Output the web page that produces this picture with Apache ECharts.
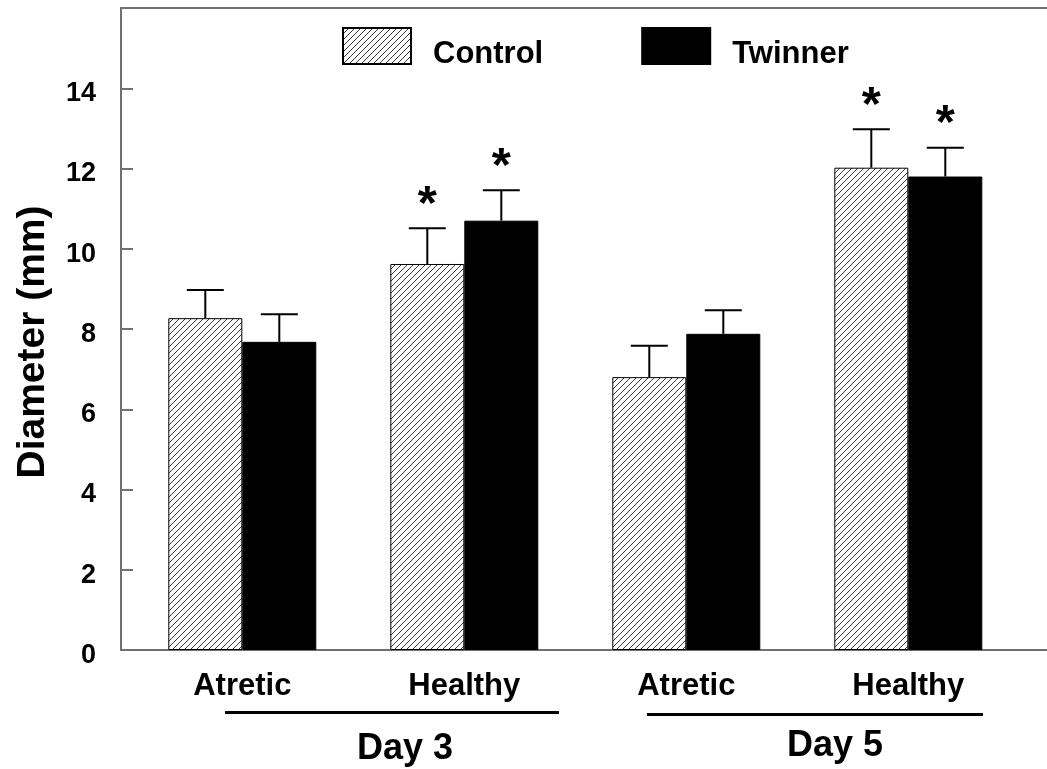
<!DOCTYPE html>
<html>
<head>
<meta charset="utf-8">
<script src="https://cdn.jsdelivr.net/npm/echarts@6/dist/echarts.min.js"></script>
<style>html,body{margin:0;padding:0;background:#fff;}#main{width:1047px;height:769px;}</style>
</head>
<body>
<div id="main"></div>
<script>
// ---- data ----
const categories = ['Atretic', 'Healthy', 'Atretic', 'Healthy'];
const groupLabels = ['Day 3', 'Day 5'];
const seriesNames = ['Control', 'Twinner'];
const controlValues = [8.27, 9.62, 6.80, 12.02];
const controlErrors = [0.70, 0.89, 0.78, 0.96];
const controlSig = [0, 1, 0, 1];
const twinnerValues = [7.68, 10.70, 7.88, 11.80];
const twinnerErrors = [0.69, 0.76, 0.59, 0.72];
const twinnerSig = [0, 1, 0, 1];
const yTicks = [0, 2, 4, 6, 8, 10, 12, 14];
const yMax = 16;

const FONT = '"Liberation Sans", Arial, Helvetica, sans-serif';
const BAR_W = 74;

function hatch() {
  const c = document.createElement('canvas');
  c.width = 6; c.height = 6;
  const g = c.getContext('2d');
  g.fillStyle = '#fff'; g.fillRect(0, 0, 6, 6);
  g.strokeStyle = '#3a3a3a'; g.lineWidth = 1;
  g.beginPath();
  g.moveTo(0, 6); g.lineTo(6, 0);
  g.moveTo(-1, 1); g.lineTo(1, -1);
  g.moveTo(5, 7); g.lineTo(7, 5);
  g.stroke();
  return c;
}
const hatchFill = { image: hatch(), repeat: 'repeat' };

function errData(vals, errs, sig) {
  return vals.map((v, i) => [i, v, errs[i], sig[i]]);
}
function errRender(offset) {
  return function (params, api) {
    const i = api.value(0), v = api.value(1), e = api.value(2), s = api.value(3);
    const top = api.coord([i, v + e]);
    const base = api.coord([i, v]);
    const cx = top[0] + offset;
    const children = [
      { type: 'line', shape: { x1: cx, y1: base[1], x2: cx, y2: top[1] }, style: { stroke: '#000', lineWidth: 2 } },
      { type: 'line', shape: { x1: cx - 18.5, y1: top[1], x2: cx + 18.5, y2: top[1] }, style: { stroke: '#000', lineWidth: 2 } }
    ];
    if (s) {
      children.push({ type: 'text', x: cx, y: top[1] - 23, style: { text: '*', fill: '#000', font: 'bold 49px ' + FONT, align: 'center', verticalAlign: 'middle' } });
    }
    return { type: 'group', children: children };
  };
}

const chart = echarts.init(document.getElementById('main'), null, { renderer: 'canvas' });
const axisColor = '#707070';
chart.setOption({
  backgroundColor: '#fff',
  animation: false,
  legend: {
    data: seriesNames,
    left: 342, top: 27,
    padding: 0,
    icon: 'rect',
    itemWidth: 68, itemHeight: 36, itemGap: 98,
    formatter: '{pad| }\n{t|{name}}',
    textStyle: {
      padding: [0, 0, 0, 17],
      rich: {
        pad: { fontSize: 1, lineHeight: 16, height: 16 },
        t: { fontFamily: FONT, fontSize: 31, fontWeight: 'bold', color: '#000', lineHeight: 20, height: 20 }
      }
    }
  },
  grid: [
    { left: 121, right: -20, top: 8, bottom: 119 },
    { left: 131.3, right: 27.7, top: 8, bottom: 119 }
  ],
  xAxis: [
    { gridIndex: 0, type: 'value', min: 0, max: 1, position: 'bottom',
      axisLine: { show: true, lineStyle: { color: axisColor, width: 2 } }, axisTick: { show: false }, axisLabel: { show: false }, splitLine: { show: false } },
    { gridIndex: 0, type: 'value', min: 0, max: 1, position: 'top',
      axisLine: { show: true, lineStyle: { color: axisColor, width: 2 } }, axisTick: { show: false }, axisLabel: { show: false }, splitLine: { show: false } },
    { gridIndex: 1, type: 'category', data: categories,
      axisLine: { show: false }, axisTick: { show: false }, splitLine: { show: false },
      axisLabel: { margin: 21, fontFamily: FONT, fontSize: 31, fontWeight: 'bold', color: '#000', lineHeight: 31 } }
  ],
  yAxis: [
    { gridIndex: 0, type: 'value', min: 0, max: yMax, interval: 2,
      name: 'Diameter (mm)', nameLocation: 'middle', nameRotate: 90, nameGap: 68,
      nameTextStyle: { fontFamily: FONT, fontSize: 39, fontWeight: 'bold', color: '#000', padding: [0, 26, 0, 0] },
      axisLine: { show: true, lineStyle: { color: axisColor, width: 2 } },
      axisTick: { show: true, inside: true, length: 12, lineStyle: { color: axisColor, width: 2 } },
      axisLabel: { margin: 25,
        formatter: function (v) { return yTicks.indexOf(v) >= 0 ? '{pad| }\n{v|' + v + '}' : ''; },
        rich: {
          pad: { fontSize: 1, lineHeight: 11, height: 11 },
          v: { fontFamily: FONT, fontSize: 27, fontWeight: 'bold', color: '#000', lineHeight: 27 }
        } },
      splitLine: { show: false } },
    { gridIndex: 1, type: 'value', min: 0, max: yMax, show: false }
  ],
  series: [
    { name: 'Control', type: 'bar', xAxisIndex: 2, yAxisIndex: 1, data: controlValues, barWidth: BAR_W, barGap: '0%',
      itemStyle: { color: hatchFill, borderColor: '#000', borderWidth: 1 } },
    { name: 'Twinner', type: 'bar', xAxisIndex: 2, yAxisIndex: 1, data: twinnerValues, barWidth: BAR_W, barGap: '0%',
      itemStyle: { color: '#000', borderColor: '#000', borderWidth: 1 } },
    { type: 'custom', xAxisIndex: 2, yAxisIndex: 1, data: errData(controlValues, controlErrors, controlSig),
      renderItem: errRender(-BAR_W / 2), z: 5, silent: true },
    { type: 'custom', xAxisIndex: 2, yAxisIndex: 1, data: errData(twinnerValues, twinnerErrors, twinnerSig),
      renderItem: errRender(BAR_W / 2), z: 5, silent: true }
  ],
  graphic: [
    { type: 'line', shape: { x1: 225, y1: 712.5, x2: 559, y2: 712.5 }, style: { stroke: '#000', lineWidth: 3 } },
    { type: 'line', shape: { x1: 647, y1: 714.5, x2: 983, y2: 714.5 }, style: { stroke: '#000', lineWidth: 3 } },
    { type: 'text', x: 405, y: 749, style: { text: groupLabels[0], font: 'bold 36px ' + FONT, fill: '#000', align: 'center', verticalAlign: 'middle' } },
    { type: 'text', x: 835, y: 746, style: { text: groupLabels[1], font: 'bold 36px ' + FONT, fill: '#000', align: 'center', verticalAlign: 'middle' } }
  ]
});
</script>
</body>
</html>
